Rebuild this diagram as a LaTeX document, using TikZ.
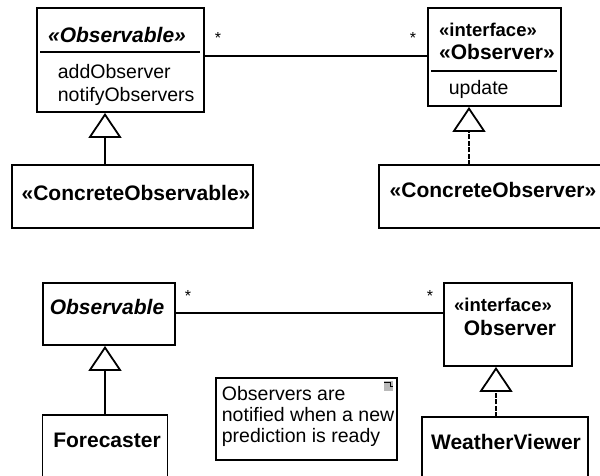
\documentclass[tikz,border=0pt]{standalone}
\usepackage{fontspec}
\setmainfont{Liberation Sans}
\usetikzlibrary{arrows.meta}

\begin{document}
\begin{tikzpicture}[x=1pt,y=-1pt,line width=1.8pt,
    box/.style={draw,rectangle,inner sep=0pt},
    clsname/.style={font=\fontsize{21}{25}\selectfont\bfseries},
    absname/.style={font=\fontsize{21}{25}\selectfont\bfseries\itshape},
    stereo/.style={font=\fontsize{18.5}{22}\selectfont\bfseries},
    oper/.style={font=\fontsize{19.5}{23}\selectfont,anchor=base west,inner sep=0pt},
    mult/.style={font=\fontsize{16}{18}\selectfont},
    gen/.style={-{Triangle[open,length=25pt,width=33pt]}},
    real/.style={gen,dash pattern=on 5pt off 1.5pt}]
\useasboundingbox (0,0) rectangle (600,475);

% pattern: Observable / Observer
\node[box,minimum width=167,minimum height=104] (obsA) at (120.5,60) {};
\node[absname] (obsAname) at (117,35) {«Observable»};
\draw (40,52) -- (200,52);
\node[oper] (addobs) at (57,78) {addObserver};
\node[oper] (notify) at (57,101) {notifyObservers};

\node[box,minimum width=241,minimum height=63] (cobs) at (132.5,196.5) {};
\node[clsname] (cobsname) at (136,193) {«ConcreteObservable»};
\coordinate (g1) at (105,165);
\draw[gen] (g1) -- (g1 |- obsA.south);

\node[box,minimum width=133,minimum height=98] (obvA) at (494.5,57) {};
\node[stereo] (obvAst) at (488,30) {«interface»};
\node[clsname] (obvAname) at (497,52) {«Observer»};
\draw (431,71) -- (557,71);
\node[oper] (update) at (448,94) {update};

\node[box,minimum width=233,minimum height=63] (cobv) at (495.5,196.5) {};
\node[clsname] (cobvname) at (493,190) {«ConcreteObserver»};
\coordinate (g2) at (469,165);
\draw[real] (g2) -- (g2 |- obvA.south);

\draw (obsA.east |- 0,56) -- (obvA.west |- 0,56);
\node[mult] (mA1) at (218,38) {*};
\node[mult] (mA2) at (413,38) {*};

% example: weather forecast
\node[box,minimum width=132,minimum height=62] (obsB) at (109,314) {};
\node[absname] (obsBname) at (107,307) {Observable};

\node[box,minimum width=125,minimum height=80] (fcst) at (105,455) {};
\node[clsname] (fcstname) at (107,440) {Forecaster};
\draw[gen] (fcst.north) -- (fcst.north |- obsB.south);

\node[box,minimum width=128,minimum height=83] (obvB) at (508,324.5) {};
\node[stereo] (obvBst) at (503,305) {«interface»};
\node[clsname] (obvBname) at (510,328) {Observer};

\node[box,minimum width=166,minimum height=80] (wview) at (505,457) {};
\node[clsname] (wviewname) at (506,442) {WeatherViewer};
\coordinate (g3) at (496,417);
\draw[real] (g3) -- (g3 |- obvB.south);

\draw (obsB.east |- 0,313) -- (obvB.west |- 0,313);
\node[mult] (mB1) at (188,296) {*};
\node[mult] (mB2) at (430,296) {*};

% note
\node[box,minimum width=181,minimum height=82] (note) at (306.5,419) {};
\node[oper] (note1) at (221,400) {Observers are};
\node[oper] (note2) at (221,421) {notified when a new};
\node[oper] (note3) at (221,442) {prediction is ready};
\fill[gray!55] (384,381) rectangle (393,391);
\draw[line width=0.8pt] (384,382) -- (390,382) -- (390,386) -- (393,386);
\end{tikzpicture}
\end{document}
